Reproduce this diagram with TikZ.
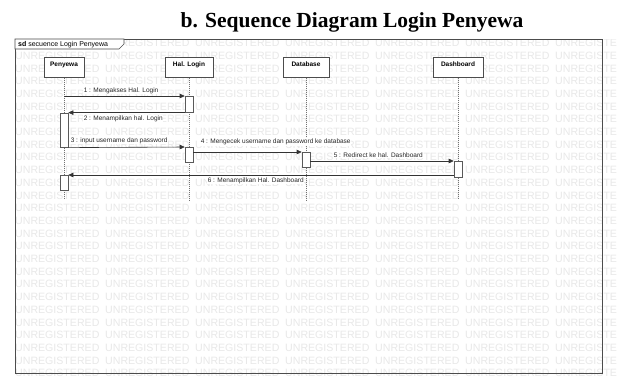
\documentclass[tikz,border=0pt]{standalone}
\usepackage{fontspec}
\setmainfont{Liberation Sans}
\newfontfamily\titlefont{Liberation Serif}
\usetikzlibrary{arrows.meta}
\begin{document}
\begin{tikzpicture}[x=1pt,y=-1pt,
  wm/.style={font=\fontsize{10.6}{11}\selectfont, text=black!9, inner sep=0pt, anchor=west},
  head/.style={draw=black!70, fill=white, line width=0.6pt, minimum height=20pt, inner sep=0pt,
    font=\bfseries\fontsize{6.5}{7}\selectfont, text depth=7pt, anchor=north},
  actbox/.style={draw=black!65, fill=white, line width=0.6pt, minimum width=8pt, inner sep=0pt, anchor=north},
  lifeline/.style={draw=black!55, line width=0.5pt, dash pattern=on 1pt off 1pt},
  msg/.style={draw=black!80, line width=0.6pt, -{Triangle[length=5pt,width=4.5pt]}},
  msglabel/.style={font=\fontsize{6.5}{7}\selectfont, inner sep=0.6pt, fill=white, anchor=west, text=black!85},
  frameline/.style={draw=black!70, line width=0.6pt}
]
\useasboundingbox (0,0) rectangle (617,376);
\fill[white] (0,0) rectangle (617,376);

% title
\node[font=\titlefont\bfseries\fontsize{21.5}{24}\selectfont, anchor=base, inner sep=0pt] (title) at (352,27) {b. Sequence Diagram Login Penyewa};

% watermark
\begin{scope}
\clip (15,39) rectangle (617,376);
\foreach \r in {0,...,26}{
  \foreach \c in {0,...,6}{
    \node[wm] (wm-\r-\c) at ({15+90*\c},{43+12.7*\r}) {UNREGISTERED};
  }
}
\end{scope}

% frame
\draw[frameline] (15,39) rectangle (602,373);
\draw[frameline, fill=white] (15,39) -- (15,49) -- (119,49) -- (124,44) -- (124,39) -- cycle;
\node[font=\fontsize{7}{8}\selectfont, anchor=west, inner sep=0pt] (tab) at (18,44.5) {\textbf{sd} secuence Login Penyewa};

% lifeline heads
\node[head, minimum width=40pt] (pen) at (64,57) {Penyewa};
\node[head, minimum width=48pt] (hal) at (189,57) {Hal. Login};
\node[head, minimum width=46pt] (db) at (306,57) {Database};
\node[head, minimum width=50pt] (dash) at (458,57) {Dashboard};

% lifeline ends
\coordinate (pen-end) at (64,198);
\coordinate (hal-end) at (189,200);
\coordinate (db-end) at (306,200);
\coordinate (dash-end) at (458,198);
\draw[lifeline] (pen.south) -- (pen-end);
\draw[lifeline] (hal.south) -- (hal-end);
\draw[lifeline] (db.south) -- (db-end);
\draw[lifeline] (dash.south) -- (dash-end);

% activations
\node[actbox, minimum height=16pt] (act1) at (189,96) {};
\node[actbox, minimum height=34pt] (actP1) at (64,113) {};
\node[actbox, minimum height=15pt] (act2) at (189,147) {};
\node[actbox, minimum height=15pt] (actDB) at (306,152) {};
\node[actbox, minimum height=16pt] (actD) at (458,161) {};
\node[actbox, minimum height=15pt] (actP2) at (64,175) {};

% messages
\draw[msg] (pen.south |- act1.north) -- (act1.north west);
\draw[msg] (act1.south west) -- (act1.south west -| actP1.east);
\draw[msg] (actP1.south east) -- (act2.north west);
\draw[msg] (act2.east |- actDB.north) -- (actDB.north west);
\draw[msg] (actDB.east |- actD.north) -- (actD.north west);
\draw[msg] (actD.west |- actP2.north) -- (actP2.north east);

% message labels
\node[msglabel] (l1) at (83,90.5) {1 : Mengakses Hal. Login};
\node[msglabel] (l2) at (83,118.5) {2 : Menampilkan hal. Login};
\node[msglabel] (l3) at (70,140.5) {3 : input username dan password};
\node[msglabel] (l4) at (200,142) {4 : Mengecek username dan password ke database};
\node[msglabel] (l5) at (333,155) {5 : Redirect ke hal. Dashboard};
\node[msglabel] (l6) at (207,180.5) {6 : Menampilkan Hal. Dashboard};
\end{tikzpicture}
\end{document}
